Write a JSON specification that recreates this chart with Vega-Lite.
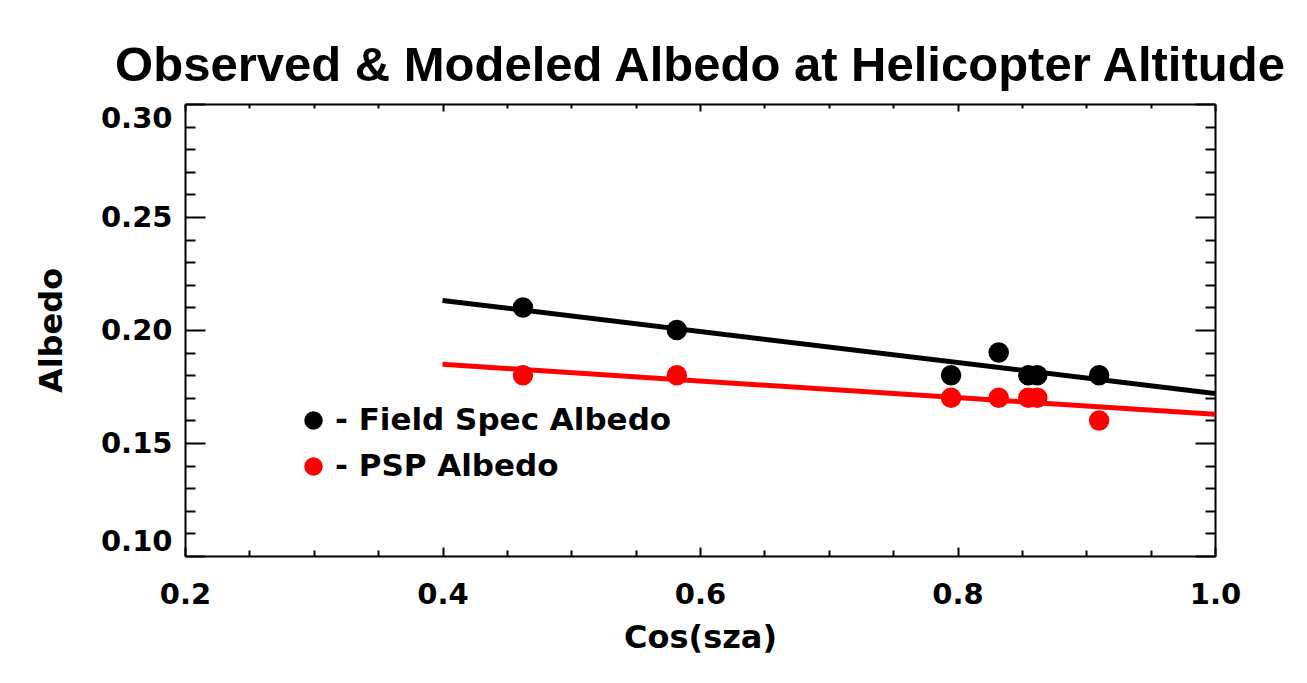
{
  "$schema": "https://vega.github.io/schema/vega-lite/v6.json",
  "width": 1030,
  "height": 452,
  "autosize": {"type": "none"},
  "padding": {"left": 185, "top": 104, "right": 92, "bottom": 127},
  "background": "white",
  "title": {
    "text": "Observed & Modeled Albedo at Helicopter Altitude",
    "font": "Liberation Sans",
    "fontSize": 49,
    "fontWeight": "bold",
    "color": "black",
    "anchor": "middle",
    "frame": "group",
    "baseline": "alphabetic",
    "offset": -27
  },
  "datasets": {
    "observations": [
      {"series": "Field Spec Albedo", "cos_sza": 0.4625, "albedo": 0.21},
      {"series": "Field Spec Albedo", "cos_sza": 0.582, "albedo": 0.20},
      {"series": "Field Spec Albedo", "cos_sza": 0.795, "albedo": 0.18},
      {"series": "Field Spec Albedo", "cos_sza": 0.832, "albedo": 0.19},
      {"series": "Field Spec Albedo", "cos_sza": 0.855, "albedo": 0.18},
      {"series": "Field Spec Albedo", "cos_sza": 0.862, "albedo": 0.18},
      {"series": "Field Spec Albedo", "cos_sza": 0.91, "albedo": 0.18},
      {"series": "PSP Albedo", "cos_sza": 0.4625, "albedo": 0.18},
      {"series": "PSP Albedo", "cos_sza": 0.582, "albedo": 0.18},
      {"series": "PSP Albedo", "cos_sza": 0.795, "albedo": 0.17},
      {"series": "PSP Albedo", "cos_sza": 0.832, "albedo": 0.17},
      {"series": "PSP Albedo", "cos_sza": 0.855, "albedo": 0.17},
      {"series": "PSP Albedo", "cos_sza": 0.862, "albedo": 0.17},
      {"series": "PSP Albedo", "cos_sza": 0.91, "albedo": 0.16}
    ],
    "model": [
      {"series": "Field Spec Albedo", "cos_sza": 0.4, "albedo": 0.2131},
      {"series": "Field Spec Albedo", "cos_sza": 1.0, "albedo": 0.1719},
      {"series": "PSP Albedo", "cos_sza": 0.4, "albedo": 0.1848},
      {"series": "PSP Albedo", "cos_sza": 1.0, "albedo": 0.1627}
    ]
  },
  "layer": [
    {
      "data": {"name": "model"},
      "mark": {"type": "line", "strokeWidth": 5, "clip": true},
      "encoding": {
        "x": {
          "field": "cos_sza",
          "type": "quantitative",
          "scale": {"domain": [0.2, 1.0], "nice": false, "zero": false},
          "axis": {
            "orient": "bottom",
            "title": "Cos(sza)",
            "values": [0.2, 0.25, 0.3, 0.35, 0.4, 0.45, 0.5, 0.55, 0.6, 0.65, 0.7, 0.75, 0.8, 0.85, 0.9, 0.95, 1.0],
            "labelExpr": "round(datum.value * 100) % 20 === 0 ? format(datum.value, '.1f') : ''",
            "labelFlush": false,
            "labelOverlap": false,
            "labelBound": false,
            "tickSize": {"condition": {"test": "round(datum.value * 100) % 20 === 0", "value": -9}, "value": -6},
            "labelPadding": 33,
            "titlePadding": 10
          }
        },
        "y": {
          "field": "albedo",
          "type": "quantitative",
          "scale": {"domain": [0.1, 0.3], "nice": false, "zero": false},
          "axis": {
            "orient": "left",
            "title": "Albedo",
            "values": [0.1, 0.11, 0.12, 0.13, 0.14, 0.15, 0.16, 0.17, 0.18, 0.19, 0.2, 0.21, 0.22, 0.23, 0.24, 0.25, 0.26, 0.27, 0.28, 0.29, 0.3],
            "labelExpr": "round(datum.value * 100) % 5 === 0 ? format(datum.value, '.2f') : ''",
            "labelFlush": true,
            "labelOverlap": false,
            "labelBound": false,
            "tickSize": {"condition": {"test": "round(datum.value * 100) % 5 === 0", "value": -20}, "value": -10},
            "labelPadding": 33,
            "titlePadding": 32
          }
        },
        "color": {
          "field": "series",
          "type": "nominal",
          "scale": {"domain": ["Field Spec Albedo", "PSP Albedo"], "range": ["#000000", "#ff0000"]},
          "legend": {
            "orient": "none",
            "legendX": 113,
            "legendY": 301,
            "title": null,
            "padding": 0,
            "symbolType": "circle",
            "symbolSize": 340,
            "symbolFillColor": null,
            "symbolStrokeWidth": 0,
            "labelExpr": "'- ' + datum.label",
            "labelFont": "DejaVu Sans",
            "labelFontWeight": "bold",
            "labelFontSize": 31,
            "labelColor": "black",
            "labelOffset": 6,
            "labelLimit": 0,
            "rowPadding": 14
          }
        },
        "detail": {"field": "series"}
      }
    },
    {
      "data": {"name": "observations"},
      "mark": {"type": "point", "shape": "circle", "filled": true, "opacity": 1, "size": 420},
      "encoding": {
        "x": {
          "field": "cos_sza",
          "type": "quantitative",
          "axis": {
            "orient": "top",
            "title": null,
            "labels": false,
            "values": [0.2, 0.25, 0.3, 0.35, 0.4, 0.45, 0.5, 0.55, 0.6, 0.65, 0.7, 0.75, 0.8, 0.85, 0.9, 0.95, 1.0],
            "tickSize": {"condition": {"test": "round(datum.value * 100) % 20 === 0", "value": -7}, "value": -4}
          }
        },
        "y": {
          "field": "albedo",
          "type": "quantitative",
          "axis": {
            "orient": "right",
            "title": null,
            "labels": false,
            "values": [0.1, 0.11, 0.12, 0.13, 0.14, 0.15, 0.16, 0.17, 0.18, 0.19, 0.2, 0.21, 0.22, 0.23, 0.24, 0.25, 0.26, 0.27, 0.28, 0.29, 0.3],
            "tickSize": {"condition": {"test": "round(datum.value * 100) % 5 === 0", "value": -20}, "value": -10}
          }
        },
        "color": {
          "field": "series",
          "type": "nominal"
        }
      }
    }
  ],
  "resolve": {"axis": {"x": "independent", "y": "independent"}},
  "config": {
    "view": {"stroke": null},
    "axis": {
      "grid": false,
      "domainColor": "black",
      "domainWidth": 2,
      "tickColor": "black",
      "tickWidth": 2,
      "labelFont": "DejaVu Sans",
      "labelFontWeight": "bold",
      "labelFontSize": 29,
      "labelColor": "black",
      "titleFont": "DejaVu Sans",
      "titleFontWeight": "bold",
      "titleFontSize": 32,
      "titleColor": "black"
    }
  }
}
